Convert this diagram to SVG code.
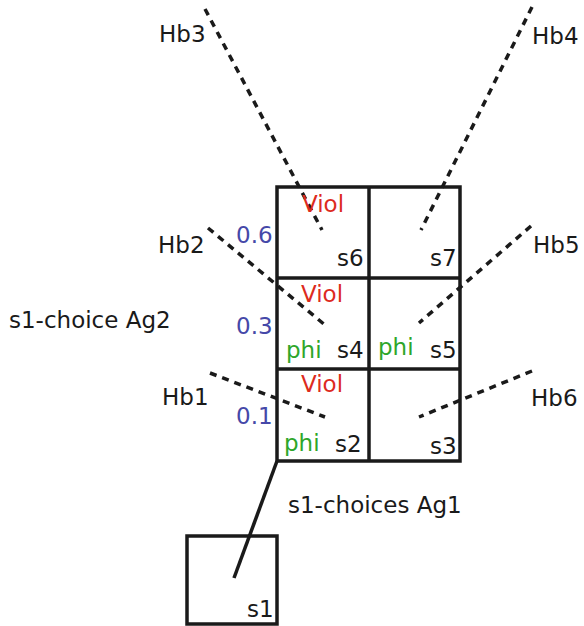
<svg xmlns="http://www.w3.org/2000/svg" width="584" height="626" viewBox="0 0 584 626">
  <style>
    text { font-family: "DejaVu Sans", sans-serif; font-size: 23px; fill: #1a1a1a; }
    .viol { fill: #dd2b1e; }
    .prob { fill: #4548a8; }
    .phi { fill: #2ea62a; }
    .box { fill: none; stroke: #1a1a1a; stroke-width: 3.5; }
    .dash { fill: none; stroke: #1a1a1a; stroke-width: 3.5; stroke-dasharray: 7 6; }
    .solid { fill: none; stroke: #1a1a1a; stroke-width: 3.5; }
  </style>
  <rect width="584" height="626" fill="#ffffff"/>

  <!-- connectors -->
  <g id="connectors">
    <line class="dash" x1="205" y1="9" x2="322" y2="230"/>
    <line class="dash" x1="532" y1="7" x2="421" y2="230"/>
    <line class="dash" x1="208" y1="228" x2="325" y2="325"/>
    <line class="dash" x1="531" y1="226" x2="419" y2="323"/>
    <line class="dash" x1="210" y1="373" x2="325" y2="417"/>
    <line class="dash" x1="532" y1="371" x2="419" y2="417"/>
    <line class="solid" x1="277" y1="461" x2="234" y2="578"/>
  </g>

  <!-- choice grid -->
  <g id="grid">
    <rect class="box" x="277" y="187" width="183" height="274"/>
    <line class="box" x1="369" y1="187" x2="369" y2="461"/>
    <line class="box" x1="277" y1="278" x2="460" y2="278"/>
    <line class="box" x1="277" y1="369" x2="460" y2="369"/>
  </g>

  <g id="s6">
    <text class="viol" x="302" y="212">Viol</text>
    <text x="337" y="266">s6</text>
  </g>
  <g id="s7">
    <text x="430" y="266">s7</text>
  </g>
  <g id="s4">
    <text class="viol" x="301" y="302">Viol</text>
    <text class="phi" x="286" y="358">phi</text>
    <text x="337" y="358">s4</text>
  </g>
  <g id="s5">
    <text class="phi" x="378" y="355">phi</text>
    <text x="430" y="358">s5</text>
  </g>
  <g id="s2">
    <text class="viol" x="301" y="392">Viol</text>
    <text class="phi" x="284" y="451">phi</text>
    <text x="335" y="452">s2</text>
  </g>
  <g id="s3">
    <text x="430" y="454">s3</text>
  </g>

  <g id="probabilities">
    <text class="prob" x="236" y="243">0.6</text>
    <text class="prob" x="236" y="334">0.3</text>
    <text class="prob" x="236" y="424">0.1</text>
  </g>

  <g id="s1">
    <rect class="box" x="187" y="536" width="90" height="88"/>
    <text x="247" y="617">s1</text>
  </g>

  <g id="labels">
    <text x="159" y="42">Hb3</text>
    <text x="532" y="44">Hb4</text>
    <text x="158" y="253">Hb2</text>
    <text x="533" y="253">Hb5</text>
    <text x="162" y="405">Hb1</text>
    <text x="531" y="406">Hb6</text>
    <text x="9" y="328">s1-choice Ag2</text>
    <text x="288" y="513">s1-choices Ag1</text>
  </g>
</svg>
